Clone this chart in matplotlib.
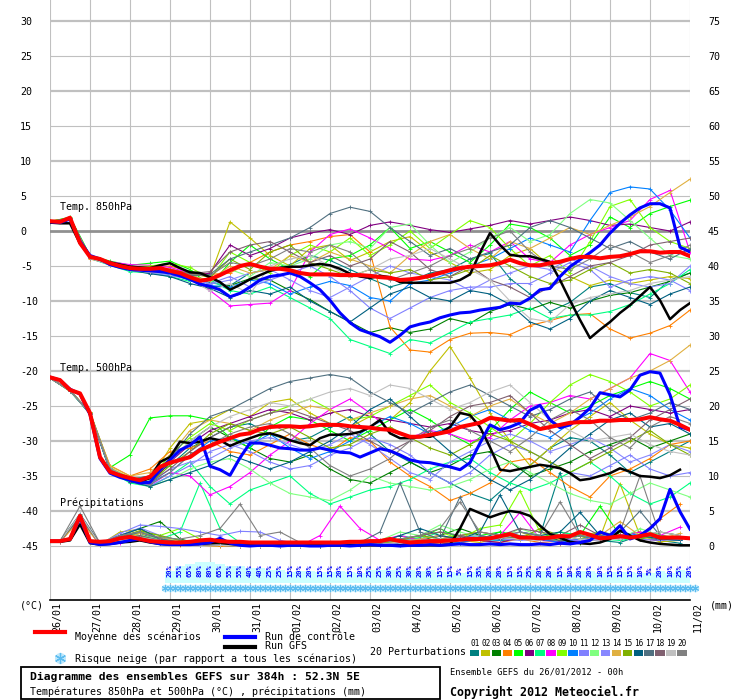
import numpy as np
import matplotlib
matplotlib.use("Agg")
import matplotlib.pyplot as plt
import matplotlib.transforms as mtransforms
from matplotlib.lines import Line2D
from matplotlib.patches import Rectangle

plt.rcParams['font.family'] = ['DejaVu Sans Mono', 'DejaVu Sans']

# ---------------- data ----------------
hours = np.arange(0, 385, 6)        # mean / control / GFS, 6h steps
hours12 = np.arange(0, 385, 12)     # perturbations 850/500
hours_rr = np.arange(6, 384, 12)    # perturbations precip
day_labels = ['26/01', '27/01', '28/01', '29/01', '30/01', '31/01', '01/02', '02/02', '03/02',
              '04/02', '05/02', '06/02', '07/02', '08/02', '09/02', '10/02', '11/02']

pert_colors = ['#008080', '#c0c000', '#008000', '#ff8000', '#00ff00', '#800080', '#00ff80',
               '#ff00ff', '#80ff00', '#0080ff', '#8080ff', '#80ff80', '#8888ff', '#e0b040',
               '#80b000', '#006080', '#507080', '#806070', '#c0c0c0', '#808080']

t850_mean = [1.4, 1.3, 1.9, -1.7, -3.7, -4.0, -4.6, -5.0, -5.3, -5.4, -5.4, -5.3, -5.7, -6.0, -6.6,
             -7.1, -6.9, -6.3, -5.6, -5.0, -4.7, -5.1, -5.4, -5.4, -5.6, -6.0, -6.2, -6.2, -6.2, -6.3,
             -6.3, -6.3, -6.4, -6.6, -6.7, -7.0, -6.9, -6.7, -6.4, -6.0, -5.6, -5.3, -5.1, -5.0, -4.9,
             -4.6, -4.1, -4.6, -4.9, -4.9, -4.6, -4.4, -4.0, -3.7, -3.7, -3.9, -3.7, -3.6, -3.3, -2.9,
             -2.9, -3.1, -3.0, -3.0, -3.6]
t850_ctrl = [1.3, 1.2, 1.7, -1.5, -3.5, -4.0, -4.8, -5.2, -5.5, -5.6, -5.7, -5.8, -6.0, -6.4, -6.9,
             -7.6, -7.9, -8.4, -9.4, -8.9, -8.0, -7.0, -6.5, -6.3, -6.0, -6.5, -7.4, -8.4, -9.9, -11.7,
             -13.1, -14.1, -14.6, -15.1, -15.9, -14.9, -13.7, -13.3, -13.0, -12.4, -12.0, -11.7, -11.6,
             -11.3, -11.1, -10.9, -10.3, -10.4, -9.6, -8.4, -8.2, -6.5, -5.1, -4.1, -3.1, -2.0, -0.3,
             1.1, 2.3, 3.3, 3.9, 3.9, 3.3, -2.3, -3.0]
t850_gfs = [1.2, 1.1, 1.1, -1.8, -3.6, -4.1, -4.5, -4.8, -5.1, -5.2, -5.3, -4.9, -4.6, -5.3, -5.9,
            -6.0, -6.6, -7.3, -8.4, -7.7, -6.9, -6.3, -5.7, -5.3, -5.1, -5.1, -4.9, -4.7, -4.9, -5.4,
            -6.1, -6.5, -6.7, -6.4, -6.6, -7.3, -7.4, -7.4, -7.4, -7.4, -7.4, -7.0, -6.2, -3.1, -0.3,
            -2.0, -3.4, -3.6, -3.6, -4.0, -4.4, -7.0, -9.9, -12.7, -15.3, -14.1, -13.0, -11.7, -10.6,
            -9.3, -8.0, -9.9, -12.6, -11.3, -10.3]

t850_members = [
    [1.3, 1.9, -3.6, -4.4, -5.0, -5.3, -5.5, -6.2, -7.4, -7.8, -6.0, -5.5, -4.8, -3.5, -4.2, -5.5,
     -6.8, -8.0, -7.2, -6.0, -5.5, -4.0, -3.2, -6.8, -9.0, -11.5, -10.2, -8.0, -7.5, -8.8, -9.5, -7.0, -6.0],
    [1.2, 1.8, -3.9, -4.8, -5.6, -5.8, -5.4, -6.0, -6.5, 1.3, -1.0, -3.5, -5.0, -2.5, -2.0, -4.2,
     -3.0, -1.5, -0.8, -3.0, -4.5, -6.0, -5.5, -3.5, -2.5, -5.0, -6.5, -7.8, -7.0, -7.5, -7.0, -6.5, -6.8],
    [1.3, 1.7, -3.7, -4.5, -5.2, -5.6, -6.0, -7.0, -8.0, -7.8, -6.8, -7.0, -8.5, -9.8, -11.5, -13.0,
     -14.5, -13.8, -14.5, -14.0, -12.5, -13.2, -11.5, -10.5, -11.2, -10.2, -11.0, -10.0, -9.2, -8.8, -8.0, -7.2, -6.0],
    [1.4, 1.8, -4.0, -4.7, -5.4, -5.2, -5.0, -5.8, -6.2, -6.0, -4.5, -3.0, -2.0, -1.5, -0.8, -0.5,
     -3.0, -13.7, -17.0, -17.3, -15.5, -14.6, -14.5, -14.8, -13.5, -12.8, -12.0, -11.8, -14.0, -15.3, -14.6, -13.5, -11.3],
    [1.3, 2.0, -3.5, -4.3, -4.9, -4.6, -4.3, -5.5, -7.8, -4.5, -2.0, -4.0, -5.5, -6.5, -4.0, -3.5,
     -2.0, 0.5, -2.5, -1.5, -3.0, -4.5, -2.0, 1.0, 0.5, -1.0, -3.5, -2.0, 2.0, 0.5, 2.5, 3.5, 4.4],
    [1.3, 1.8, -3.8, -4.6, -5.5, -5.7, -5.8, -6.5, -6.0, -2.0, -3.5, -2.5, -1.0, -0.3, 0.2, -0.5,
     0.8, 1.3, 0.8, 0.2, -0.2, 0.3, 0.8, 1.5, 1.0, 1.5, 2.0, 1.5, 0.8, 1.0, 0.5, 0.0, 1.3],
    [1.2, 1.9, -3.9, -4.9, -5.8, -6.0, -6.5, -7.2, -7.0, -8.5, -9.0, -8.0, -9.5, -11.0, -12.5, -15.5,
     -16.5, -17.5, -15.5, -16.0, -14.5, -13.0, -12.5, -12.0, -11.0, -12.5, -12.0, -12.0, -11.5, -10.5, -9.0, -7.5, -5.5],
    [1.3, 1.8, -3.7, -4.4, -4.8, -4.9, -5.2, -6.0, -8.5, -10.7, -10.5, -10.3, -8.5, -3.0, -0.5, 0.3,
     -1.0, -2.5, -4.0, -4.2, -3.5, -2.0, -3.0, -1.5, -4.0, -4.5, -2.0, -0.5, 0.5, 1.5, 4.5, 5.8, -3.0],
    [1.4, 1.9, -3.6, -4.5, -5.1, -5.0, -4.6, -5.2, -6.8, -3.0, -4.5, -6.0, -3.5, -2.0, -3.0, -1.0,
     -3.5, -2.0, 0.0, -2.5, -0.5, 1.5, 0.5, -2.5, -5.0, -3.5, -6.0, -1.5, 3.5, 4.5, 0.5, -1.5, -2.5],
    [1.3, 1.7, -3.8, -4.7, -5.4, -5.9, -6.2, -7.0, -7.8, -8.0, -7.0, -7.5, -9.0, -8.0, -7.2, -7.8,
     -9.5, -10.0, -7.5, -7.0, -6.0, -5.0, -4.0, -2.5, -1.0, -2.0, -3.0, 1.5, 5.5, 6.3, 6.0, 3.0, -1.0],
    [1.3, 1.8, -3.9, -4.8, -5.5, -6.0, -6.4, -6.8, -7.5, -6.5, -8.0, -7.0, -6.0, -5.0, -6.5, -8.5,
     -11.0, -12.5, -11.0, -9.5, -8.5, -8.0, -8.0, -7.5, -7.5, -6.0, -4.5, -5.5, -8.0, -7.0, -6.5, -7.0, -8.5],
    [1.3, 1.9, -3.7, -4.5, -5.3, -5.4, -5.7, -6.3, -7.2, -5.5, -6.5, -4.5, -5.0, -4.0, -2.0, -1.5,
     -2.5, 0.5, 1.0, -2.0, -4.5, -3.0, -1.0, 0.5, -1.5, -0.5, 2.5, 4.5, 4.0, 1.5, -1.0, -3.5, -4.0],
    [1.2, 1.8, -3.8, -4.6, -5.5, -5.6, -6.0, -6.6, -7.6, -7.0, -6.0, -5.5, -7.0, -8.5, -9.5, -8.0,
     -6.5, -5.0, -6.0, -6.5, -7.0, -8.5, -7.0, -6.0, -5.0, -5.5, -4.0, -5.0, -6.5, -7.5, -8.0, -7.5, -5.0],
    [1.3, 1.7, -3.9, -4.6, -5.2, -5.5, -5.9, -6.4, -7.0, -5.0, -6.0, -5.5, -3.5, -4.5, -3.0, -4.0,
     -5.0, -6.0, -3.5, -1.5, -0.5, -2.5, -4.0, -1.5, -2.5, -1.0, 0.5, -0.5, 0.8, 2.0, 3.5, 5.5, 7.4],
    [1.4, 1.8, -3.6, -4.4, -5.2, -5.3, -5.5, -6.1, -6.6, -4.0, -5.5, -3.0, -2.0, -4.5, -5.5, -6.5,
     -5.5, -6.0, -5.5, -7.0, -6.5, -5.5, -3.5, -5.0, -6.5, -7.5, -7.0, -5.5, -4.5, -6.0, -5.5, -6.0, -7.5],
    [1.3, 1.8, -3.8, -4.7, -5.6, -6.1, -6.5, -7.5, -8.2, -9.5, -8.5, -9.0, -8.0, -10.0, -11.5, -13.0,
     -11.0, -9.0, -8.0, -9.5, -10.0, -8.5, -9.0, -10.5, -13.0, -14.0, -12.5, -10.0, -8.5, -9.5, -10.5, -9.0, -8.0],
    [1.3, 1.9, -3.7, -4.5, -5.3, -5.6, -5.8, -6.4, -6.2, -4.0, -3.0, -2.0, -1.0, 0.5, 2.5, 3.4,
     2.8, 0.5, -1.5, -3.5, -2.5, -4.0, -3.0, -2.0, 0.5, 1.5, 0.5, -1.0, -2.5, -1.5, -3.0, -4.0, -2.5],
    [1.3, 1.8, -3.8, -4.6, -5.4, -5.5, -5.6, -6.1, -5.8, -3.0, -2.0, -1.5, -3.0, -4.5, -3.5, -5.0,
     -4.0, -1.5, -3.0, -5.5, -6.5, -5.0, -7.0, -8.0, -9.5, -8.0, -6.5, -5.0, -4.5, -3.5, -2.0, -1.5, -1.0],
    [1.2, 1.8, -3.9, -4.8, -5.6, -5.9, -6.1, -6.8, -8.6, -7.5, -9.0, -5.0, -4.0, -3.5, -5.0, -6.5,
     -5.5, -4.0, -3.5, -2.5, -4.0, -5.5, -7.0, -10.0, -12.5, -13.0, -10.5, -9.5, -9.0, -8.5, -7.5, -7.0, -6.5],
    [1.3, 1.8, -3.7, -4.5, -5.2, -5.4, -5.5, -6.2, -6.4, -4.5, -5.0, -4.0, -2.5, -3.0, -2.0, -3.0,
     -5.5, -7.0, -6.0, -5.0, -3.5, -2.5, -1.0, 0.0, -3.0, -5.0, -5.5, -4.0, -2.0, -3.0, -4.5, -3.5, -2.0],
]

t500_mean = [-20.9, -21.3, -22.7, -23.2, -26.0, -32.3, -34.4, -34.9, -35.3, -35.6, -35.1, -33.7, -33.1,
             -32.7, -32.3, -31.3, -30.7, -30.1, -29.6, -29.1, -28.9, -28.3, -28.0, -27.9, -27.9, -28.0,
             -27.9, -27.7, -27.7, -27.7, -27.9, -28.0, -28.1, -28.3, -28.4, -28.9, -29.4, -29.4, -29.1,
             -28.9, -28.6, -28.0, -27.7, -27.4, -26.7, -26.9, -27.1, -27.0, -27.6, -28.3, -28.0, -27.7,
             -27.4, -27.3, -27.3, -27.1, -27.1, -27.0, -27.0, -26.9, -26.6, -26.9, -27.1, -27.7, -28.4]
t500_ctrl = [-20.9, -21.3, -22.6, -23.3, -26.2, -32.5, -34.6, -35.2, -35.6, -36.0, -35.9, -34.1, -32.7,
             -31.3, -30.6, -29.4, -33.6, -34.1, -34.9, -32.4, -30.3, -30.3, -30.6, -31.0, -31.1, -31.3,
             -31.3, -31.0, -31.3, -31.6, -31.7, -32.3, -31.7, -31.1, -31.4, -32.0, -32.7, -33.0, -33.1,
             -33.4, -33.7, -34.1, -33.1, -30.3, -27.7, -28.4, -28.0, -27.4, -25.6, -24.9, -27.0, -28.1,
             -27.7, -26.6, -25.3, -23.1, -23.4, -23.7, -22.7, -20.6, -20.1, -20.3, -23.4, -28.0, -28.4]
t500_gfs = [-20.9, -21.3, -22.7, -23.2, -26.1, -32.4, -34.5, -35.0, -35.5, -35.8, -35.3, -33.0, -32.3,
            -30.1, -30.3, -30.1, -29.6, -29.9, -30.7, -30.1, -29.6, -29.1, -28.9, -29.3, -29.9, -30.3,
            -30.6, -29.6, -29.1, -29.1, -29.0, -28.7, -28.0, -27.0, -28.9, -29.6, -29.6, -29.4, -29.4,
            -28.9, -28.0, -26.0, -26.3, -28.0, -30.9, -34.1, -34.3, -34.0, -33.7, -33.4, -33.6, -33.9,
            -34.6, -35.6, -35.4, -35.0, -34.6, -33.9, -34.4, -35.0, -35.1, -35.3, -34.9, -34.1, np.nan]

t500_members = [
    [-21.0, -22.7, -26.2, -34.2, -35.5, -35.0, -33.5, -31.0, -29.5, -28.0, -27.5, -29.0, -30.0, -29.5, -28.0, -26.5,
     -29.0, -31.5, -33.0, -34.5, -36.0, -37.5, -38.5, -36.0, -33.5, -31.0, -29.5, -30.0, -32.0, -34.5, -33.0, -31.5, -30.0],
    [-21.0, -22.9, -25.8, -33.8, -35.3, -35.5, -31.0, -27.5, -27.0, -25.5, -26.5, -24.5, -24.0, -26.0, -27.5, -28.0,
     -26.5, -27.0, -24.5, -20.0, -16.5, -21.0, -26.0, -30.0, -33.5, -31.0, -28.5, -26.5, -24.5, -27.0, -29.0, -30.5, -31.0],
    [-21.0, -22.8, -26.0, -34.0, -35.8, -36.2, -33.0, -30.0, -28.0, -29.5, -31.0, -32.5, -33.0, -32.0, -34.0, -35.5,
     -36.0, -34.5, -33.0, -34.5, -33.5, -32.0, -31.5, -33.0, -35.0, -34.0, -33.0, -31.5, -30.5, -29.5, -31.0, -30.0, -29.0],
    [-21.0, -22.6, -26.2, -33.5, -35.0, -34.0, -31.5, -31.0, -30.0, -31.5, -32.0, -30.5, -29.0, -30.5, -31.5, -29.5,
     -30.0, -33.0, -35.0, -36.5, -38.5, -37.5, -36.0, -33.0, -32.5, -34.5, -36.5, -38.0, -35.0, -34.0, -32.5, -30.5, -30.0],
    [-21.0, -22.8, -25.9, -33.8, -32.0, -26.7, -26.4, -26.4, -27.0, -29.5, -31.0, -28.0, -26.5, -27.0, -28.5, -30.0,
     -28.5, -27.0, -25.5, -27.0, -29.0, -30.5, -28.5, -25.5, -23.0, -24.5, -26.0, -25.0, -23.5, -22.5, -21.5, -22.5, -24.0],
    [-21.0, -22.8, -26.0, -34.0, -35.5, -36.0, -33.0, -30.5, -28.5, -27.5, -26.5, -25.5, -26.0, -27.0, -26.0, -25.5,
     -26.5, -27.0, -27.5, -28.0, -27.5, -28.5, -29.0, -28.5, -27.5, -27.0, -26.0, -25.5, -26.5, -25.0, -25.5, -26.0, -25.5],
    [-21.0, -22.9, -26.1, -34.3, -36.0, -36.5, -35.0, -33.0, -36.5, -39.0, -37.0, -36.0, -35.0, -37.5, -39.0, -38.0,
     -37.0, -36.5, -35.5, -34.0, -33.0, -32.5, -34.5, -36.0, -37.0, -36.0, -34.5, -33.0, -35.0, -37.5, -39.0, -38.0, -36.0],
    [-21.0, -22.8, -26.0, -34.2, -35.8, -36.3, -34.5, -35.0, -37.7, -36.5, -34.5, -32.0, -30.0, -27.5, -25.5, -24.0,
     -26.0, -28.5, -29.5, -28.5, -29.0, -30.0, -29.5, -27.0, -25.0, -24.5, -23.5, -24.0, -22.5, -21.0, -17.5, -18.5, -23.0],
    [-21.0, -22.8, -26.0, -34.0, -35.2, -35.5, -32.0, -29.5, -27.5, -28.5, -27.0, -26.0, -25.0, -24.0, -25.5, -27.0,
     -26.5, -25.0, -23.5, -22.0, -24.5, -26.0, -28.0, -30.0, -27.5, -24.5, -22.0, -20.5, -21.5, -23.0, -25.0, -24.0, -22.0],
    [-21.0, -22.8, -26.1, -34.1, -35.5, -36.0, -34.5, -32.0, -30.0, -29.5, -30.5, -29.0, -31.0, -32.5, -31.5, -30.0,
     -28.0, -26.5, -27.5, -29.0, -28.0, -26.5, -25.5, -27.0, -28.5, -29.5, -27.5, -26.0, -24.0, -22.5, -23.5, -25.5, -27.0],
    [-21.0, -22.8, -26.0, -34.0, -35.6, -36.4, -35.0, -33.5, -31.5, -30.5, -31.5, -33.0, -34.0, -33.5, -32.0, -31.0,
     -29.5, -30.5, -32.0, -34.5, -36.0, -34.5, -32.0, -30.5, -31.5, -33.0, -34.5, -35.0, -33.5, -32.0, -34.0, -35.0, -34.5],
    [-21.0, -22.8, -26.0, -34.0, -35.7, -36.5, -35.5, -34.0, -33.0, -32.5, -34.0, -36.0, -37.5, -38.0, -38.5, -37.0,
     -35.0, -36.0, -36.5, -37.0, -36.5, -35.5, -34.0, -33.0, -34.5, -36.0, -37.5, -38.5, -39.0, -37.5, -36.0, -37.0, -38.0],
    [-21.0, -22.8, -26.0, -33.9, -35.4, -35.8, -34.0, -33.0, -32.5, -31.0, -30.0, -29.5, -30.5, -31.5, -30.5, -29.0,
     -30.5, -32.5, -34.5, -35.5, -33.0, -31.5, -30.0, -29.0, -30.0, -31.5, -30.5, -29.5, -31.0, -33.0, -32.0, -30.5, -31.5],
    [-21.0, -22.7, -25.9, -33.6, -35.0, -34.5, -32.0, -28.5, -27.0, -27.5, -28.5, -27.0, -26.0, -25.0, -25.5, -27.0,
     -26.0, -25.0, -24.0, -23.5, -25.0, -26.5, -25.0, -24.0, -26.0, -27.5, -26.0, -24.0, -22.5, -21.0, -20.0, -18.5, -16.3],
    [-21.0, -22.8, -26.0, -34.0, -35.5, -36.0, -33.5, -31.5, -29.0, -27.5, -28.5, -29.0, -28.0, -29.5, -31.0, -30.5,
     -29.0, -28.0, -29.5, -31.0, -32.0, -30.5, -29.0, -30.0, -31.5, -33.0, -34.5, -33.0, -31.5, -30.0, -28.5, -30.5, -32.0],
    [-21.0, -22.8, -26.0, -34.2, -35.8, -36.5, -35.5, -34.5, -33.5, -32.0, -33.0, -34.0, -33.0, -31.5, -30.0, -28.0,
     -25.5, -24.0, -26.5, -29.0, -31.5, -33.5, -35.5, -37.0, -35.5, -33.5, -31.0, -29.0, -27.0, -26.0, -28.0, -27.5, -29.0],
    [-21.0, -22.8, -26.0, -34.0, -35.5, -35.0, -32.5, -29.0, -26.5, -25.5, -24.0, -22.5, -21.5, -21.0, -20.5, -21.0,
     -23.0, -24.5, -26.0, -24.5, -23.0, -22.0, -23.5, -25.0, -26.5, -25.5, -24.0, -23.0, -25.5, -27.0, -26.0, -24.5, -25.5],
    [-21.0, -22.8, -26.0, -34.0, -35.5, -36.0, -34.0, -31.5, -29.5, -28.0, -27.0, -26.0, -25.5, -26.5, -27.5, -28.5,
     -30.0, -31.5, -30.0, -28.5, -26.5, -25.0, -24.5, -23.5, -26.0, -28.5, -30.5, -32.5, -31.0, -29.5, -27.0, -25.5, -24.0],
    [-21.0, -22.8, -26.0, -34.0, -35.4, -35.5, -33.0, -30.0, -28.0, -26.5, -25.5, -24.5, -25.0, -24.0, -23.0, -22.5,
     -23.5, -22.0, -22.5, -24.0, -25.5, -24.5, -23.0, -22.0, -24.5, -27.0, -28.5, -30.0, -29.5, -29.0, -30.5, -31.5, -32.0],
    [-21.0, -22.8, -26.0, -34.0, -35.6, -36.2, -34.5, -32.0, -30.5, -29.0, -28.0, -27.5, -29.0, -31.0, -33.5, -35.0,
     -34.0, -32.5, -30.0, -28.0, -27.0, -28.5, -30.0, -31.5, -29.5, -27.0, -25.5, -27.0, -29.5, -31.0, -28.0, -26.5, -27.5],
]

# precipitation (mm), right axis
rr_mean = [0.7, 0.7, 1.0, 4.3, 0.7, 0.6, 0.7, 1.1, 1.3, 1.0, 0.7, 0.6, 0.5, 0.5, 0.6, 0.8, 0.9, 0.7, 0.6,
           0.6, 0.5, 0.5, 0.5, 0.5, 0.5, 0.5, 0.5, 0.5, 0.5, 0.5, 0.6, 0.6, 0.7, 0.7, 1.0, 0.7, 0.5, 0.6,
           0.7, 0.7, 0.8, 0.9, 1.0, 1.0, 1.1, 1.4, 1.7, 1.2, 1.2, 1.1, 1.2, 1.4, 1.4, 2.0, 1.6, 1.1, 1.2,
           1.4, 1.2, 1.4, 1.7, 1.2, 1.2, 1.2, 1.1]
rr_ctrl = [0.7, 0.7, 1.0, 4.0, 0.5, 0.2, 0.3, 0.5, 0.8, 1.0, 0.6, 0.3, 0.2, 0.2, 0.2, 0.3, 0.5, 1.1, 0.4,
           0.1, 0.0, 0.1, 0.1, 0.0, 0.1, 0.1, 0.0, 0.0, 0.1, 0.1, 0.0, 0.1, 0.2, 0.1, 0.1, 0.0, 0.1, 0.1,
           0.2, 0.1, 0.2, 0.3, 0.2, 0.2, 0.3, 0.2, 0.3, 0.2, 0.2, 0.3, 0.2, 0.4, 0.3, 0.5, 0.8, 2.0, 1.5,
           2.9, 1.0, 1.5, 2.5, 3.9, 8.1, 4.9, 2.4]
rr_gfs = [0.6, 0.6, 0.8, 3.1, 0.4, 0.2, 0.3, 0.5, 0.6, 0.8, 0.5, 0.3, 0.2, 0.2, 0.3, 0.3, 0.4, 0.5, 0.3,
          0.2, 0.1, 0.1, 0.1, 0.1, 0.1, 0.1, 0.1, 0.1, 0.1, 0.1, 0.1, 0.1, 0.1, 0.1, 0.1, 0.1, 0.1, 0.1,
          0.1, 0.1, 0.2, 2.5, 5.3, 4.7, 4.1, 4.6, 5.0, 4.8, 4.3, 2.9, 1.7, 1.2, 0.6, 0.4, 0.3, 0.5, 1.0,
          2.2, 1.5, 0.8, 0.5, 0.3, 0.2, 0.1, 0.1]

rr_members = [
    [0.7, 4.5, 0.3, 1.2, 1.8, 0.8, 0.3, 0.2, 0.3, 0.2, 0.1, 0.0, 0.0, 0.1, 0.2, 0.1, 0.3, 0.2, 0.4, 0.6, 0.5, 1.0, 2.0, 1.2, 1.5, 10.5, 1.5, 0.8, 0.5, 1.5, 0.8, 0.4],
    [0.6, 4.0, 0.2, 2.0, 2.4, 1.0, 0.3, 0.1, 0.0, 0.2, 0.1, 0.0, 0.2, 0.0, 0.1, 0.2, 0.4, 0.8, 1.0, 1.5, 0.8, 0.5, 1.2, 2.0, 1.0, 0.6, 1.8, 1.2, 8.9, 1.5, 0.6, 0.8],
    [0.7, 4.2, 0.4, 1.5, 2.5, 3.5, 1.0, 0.3, 0.2, 0.1, 0.0, 0.0, 0.1, 0.1, 0.0, 0.2, 0.3, 0.5, 0.8, 1.5, 2.5, 1.5, 0.8, 1.0, 1.5, 0.8, 0.5, 1.0, 1.5, 2.0, 1.2, 0.8],
    [0.6, 3.8, 0.2, 0.8, 1.2, 0.5, 0.2, 0.1, 0.0, 0.0, 0.1, 0.0, 0.0, 0.2, 0.1, 0.0, 0.1, 0.3, 0.5, 0.3, 0.5, 0.8, 0.5, 1.0, 0.5, 0.3, 0.8, 1.5, 1.0, 1.5, 3.9, 6.0],
    [0.7, 4.3, 0.3, 1.0, 1.5, 0.8, 0.4, 0.2, 0.1, 0.0, 0.0, 0.1, 0.0, 0.1, 0.2, 0.1, 0.5, 0.8, 1.2, 2.5, 1.0, 1.5, 2.0, 1.5, 1.2, 2.0, 1.5, 5.7, 1.5, 1.0, 2.0, 1.5],
    [0.7, 4.0, 0.2, 0.6, 1.0, 0.5, 0.3, 0.2, 0.1, 0.0, 0.0, 0.0, 0.1, 0.0, 0.0, 0.1, 0.2, 0.5, 0.8, 0.6, 1.0, 0.8, 0.5, 1.2, 0.8, 0.6, 1.0, 0.8, 1.5, 1.0, 0.8, 1.2],
    [0.7, 4.1, 0.3, 0.8, 1.2, 1.0, 2.0, 9.0, 2.5, 0.5, 0.3, 0.1, 0.0, 0.0, 0.1, 0.2, 0.5, 1.5, 1.0, 2.0, 1.5, 1.0, 0.8, 1.5, 1.0, 2.0, 1.5, 1.0, 0.8, 1.2, 1.5, 1.0],
    [0.6, 3.9, 0.2, 0.5, 1.0, 0.8, 0.5, 0.3, 0.2, 0.1, 0.0, 0.1, 0.0, 1.5, 5.7, 2.5, 0.8, 1.5, 0.8, 1.0, 1.5, 2.0, 1.5, 4.8, 1.0, 0.5, 0.8, 1.0, 1.5, 2.0, 1.5, 2.7],
    [0.7, 4.4, 0.3, 1.0, 2.0, 1.5, 2.5, 1.0, 0.3, 0.1, 0.0, 0.0, 0.1, 0.2, 0.1, 0.3, 0.5, 1.0, 1.5, 2.0, 1.0, 2.5, 3.0, 7.9, 2.0, 1.0, 1.5, 2.0, 1.0, 1.5, 1.0, 1.5],
    [0.7, 4.0, 0.2, 1.5, 2.0, 1.0, 0.5, 0.3, 0.2, 0.1, 0.0, 0.0, 0.0, 0.1, 0.0, 0.1, 0.2, 0.3, 0.5, 0.8, 0.5, 1.0, 0.8, 1.5, 1.0, 0.5, 1.0, 1.5, 2.0, 1.5, 1.0, 0.8],
    [0.6, 4.2, 0.3, 1.8, 3.0, 2.8, 2.5, 2.0, 1.5, 2.1, 2.0, 0.8, 0.3, 0.1, 0.0, 0.1, 0.3, 0.5, 1.0, 1.5, 1.0, 0.8, 1.0, 2.0, 1.5, 1.0, 0.8, 1.2, 1.5, 1.0, 0.8, 1.0],
    [0.7, 4.3, 0.2, 1.2, 1.5, 1.0, 0.8, 0.5, 0.2, 0.1, 0.0, 0.0, 0.1, 0.1, 0.2, 0.3, 0.8, 2.0, 1.5, 3.0, 2.0, 1.2, 1.0, 2.5, 1.5, 1.0, 2.0, 1.5, 1.0, 2.5, 1.5, 1.0],
    [0.7, 4.0, 0.3, 1.5, 2.6, 1.5, 0.8, 0.4, 0.2, 0.1, 0.0, 0.0, 0.0, 0.1, 0.1, 0.2, 0.5, 0.8, 1.0, 0.8, 1.2, 1.5, 1.0, 0.8, 1.0, 1.5, 1.0, 0.8, 1.2, 1.5, 1.0, 0.8],
    [0.6, 3.7, 0.2, 1.0, 1.8, 1.2, 0.6, 0.3, 0.1, 0.0, 0.0, 0.0, 0.1, 0.0, 0.1, 0.2, 0.3, 0.6, 1.0, 1.5, 1.0, 0.8, 1.2, 1.0, 1.5, 1.0, 2.0, 1.5, 3.5, 1.5, 1.0, 1.8],
    [0.7, 4.1, 0.3, 1.3, 2.2, 1.5, 0.8, 0.5, 0.2, 0.1, 0.0, 0.0, 0.0, 0.1, 0.0, 0.1, 0.3, 0.8, 1.5, 1.0, 1.5, 2.0, 1.5, 1.0, 2.5, 1.5, 1.0, 2.0, 1.5, 1.0, 1.5, 1.2],
    [0.7, 4.3, 0.3, 1.5, 2.5, 1.0, 0.5, 0.3, 0.2, 0.1, 0.0, 0.0, 0.1, 0.0, 0.1, 0.2, 0.5, 1.5, 2.5, 1.5, 1.0, 2.0, 7.3, 2.0, 1.5, 2.0, 4.8, 1.5, 1.0, 1.5, 1.0, 0.8],
    [0.7, 4.6, 0.4, 1.2, 2.0, 1.0, 0.5, 0.3, 0.2, 0.1, 0.0, 0.0, 0.0, 0.1, 0.2, 0.5, 2.0, 9.0, 2.0, 1.0, 7.0, 1.5, 1.0, 1.5, 1.0, 0.8, 1.5, 1.0, 2.0, 5.0, 1.5, 1.0],
    [0.7, 4.2, 0.3, 1.0, 1.5, 0.8, 0.4, 0.2, 0.1, 0.0, 0.0, 0.0, 0.1, 0.1, 0.2, 0.3, 0.5, 1.0, 1.5, 2.0, 1.5, 1.0, 1.5, 2.5, 2.0, 1.5, 3.0, 1.5, 1.0, 1.5, 2.0, 1.5],
    [0.7, 4.5, 0.2, 0.8, 1.2, 0.8, 0.4, 0.2, 0.1, 0.0, 0.0, 0.0, 0.0, 0.1, 0.1, 0.2, 0.3, 0.5, 0.8, 1.0, 0.8, 1.0, 1.2, 1.0, 0.8, 1.5, 1.0, 0.8, 1.0, 1.5, 2.0, 1.5],
    [0.7, 5.7, 0.4, 1.5, 2.0, 1.2, 1.0, 1.5, 2.5, 6.0, 1.5, 2.0, 0.5, 0.2, 0.1, 0.2, 0.5, 1.0, 1.5, 2.5, 6.3, 2.0, 1.5, 2.0, 1.5, 6.3, 1.5, 1.0, 2.0, 10.0, 1.5, 1.0],
]

# snow risk (% of scenarios), every 6h from 29/01 00h
snow_hours = np.arange(72, 385, 6)
snow_pct = [20, 55, 65, 80, 80, 65, 55, 55, 40, 40, 25, 25, 15, 20, 20, 15, 15, 20, 15, 10, 25, 25,
            30, 25, 30, 20, 30, 15, 15, 5, 15, 35, 20, 20, 15, 15, 25, 20, 20, 15, 10, 20, 20, 10, 15,
            15, 15, 10, 5, 20, 10, 25, 20]

temp_ticks = [30, 25, 20, 15, 10, 5, 0, -5, -10, -15, -20, -25, -30, -35, -40, -45]
rr_ticks = [75, 70, 65, 60, 55, 50, 45, 40, 35, 30, 25, 20, 15, 10, 5, 0]
rr_offset = 45      # right scale = left scale + 45

# ---------------- layout ----------------
W, H = 740, 700


def fx(px):
    return px / W


def fy(py):
    return 1 - py / H


def py2t(py):
    # pixel row of the original chart -> value on the temperature scale
    return (231 - py) / 7.0


fig = plt.figure(figsize=(W / 100, H / 100), dpi=100)
fig.patch.set_facecolor('white')
ax = fig.add_axes([fx(50), fy(600), 640 / W, 600 / H])
ax.set_xlim(0, 384)
ax.set_ylim(py2t(600), py2t(0))
for s in ['top', 'left', 'right']:
    ax.spines[s].set_visible(False)
ax.spines['bottom'].set_color('black')
ax.spines['bottom'].set_linewidth(1.2)
ax.set_xticks([])
ax.set_yticks([])

# grid
for d in range(len(day_labels)):
    ax.axvline(d * 24, color='#c0c0c0', lw=0.8, zorder=0)
for t in temp_ticks:
    if t == 0:
        ax.axhline(t, color='#909090', lw=2.0, zorder=0.5)
    elif t % 10 == 0:
        ax.axhline(t, color='#c0c0c0', lw=1.6, zorder=0)
    else:
        ax.axhline(t, color='#c0c0c0', lw=0.8, zorder=0)

# perturbations
for k in range(20):
    c = pert_colors[k]
    kw = dict(color=c, lw=0.8, marker='+', ms=3, mew=0.6, zorder=2)
    ax.plot(hours12, t850_members[k], **kw)
    ax.plot(hours12, t500_members[k], **kw)
    ax.plot(hours_rr, np.array(rr_members[k]) - rr_offset, **kw)

# GFS, control, mean
styles = [('black', 1.8, 3), ('#0000ff', 2.2, 4), ('#ff0000', 2.9, 5)]
for group in [(t850_gfs, t850_ctrl, t850_mean), (t500_gfs, t500_ctrl, t500_mean)]:
    for series, (col, lw, z) in zip(group, styles):
        ax.plot(hours, series, color=col, lw=lw, zorder=z, solid_joinstyle='round')
for series, (col, lw, z) in zip((rr_gfs, rr_ctrl, rr_mean), styles):
    ax.plot(hours, np.array(series) - rr_offset, color=col, lw=lw, zorder=z, solid_joinstyle='round')

# snow risk strip
bar_bottom = py2t(583)
bar_tops = [py2t(574 - 0.15 * p) for p in snow_pct]
ax.bar(snow_hours, np.array(bar_tops) - bar_bottom, bottom=bar_bottom, width=6,
       color='#ccffff', zorder=1, linewidth=0)
for h, p in zip(snow_hours, snow_pct):
    ax.text(h, py2t(571), f"{p}%", rotation=90, ha='center', va='center',
            fontsize=5, color='#0000ff', fontweight='bold', zorder=6)
flake_x = np.arange(69, 388, 3)
ax.scatter(flake_x, [py2t(588)] * len(flake_x), s=30, marker='o', color='#bfe8fb',
           linewidths=0, zorder=5, clip_on=False)
ax.scatter(flake_x, [py2t(588)] * len(flake_x), s=22, marker=(6, 2, 0), color='#5cbcf0',
           linewidths=0.7, zorder=6, clip_on=False)

# in-chart labels
fs = 7.2
fig.text(fx(60), fy(207), 'Temp. 850hPa', fontsize=fs, va='center', ha='left')
fig.text(fx(60), fy(368), 'Temp. 500hPa', fontsize=fs, va='center', ha='left')
fig.text(fx(60), fy(503), 'Précipitations', fontsize=fs, va='center', ha='left')

# y tick labels (both sides)
tr_left = mtransforms.blended_transform_factory(fig.transFigure, ax.transData)
for t, r in zip(temp_ticks, rr_ticks):
    ax.text(fx(20), t - 0.15, str(t), transform=tr_left, fontsize=fs, ha='left', va='center')
    ax.text(fx(708), t - 0.15, str(r), transform=tr_left, fontsize=fs, ha='left', va='center')

# x tick labels (dates, rotated)
tr_bottom = mtransforms.blended_transform_factory(ax.transData, fig.transFigure)
for d, lab in enumerate(day_labels):
    ax.text(d * 24 + 1.5, fy(602), lab, transform=tr_bottom, rotation=90, fontsize=fs,
            ha='left', va='top')
fig.text(fx(20), fy(606), '(°C)', fontsize=fs, ha='left', va='center')
fig.text(fx(710), fy(606), '(mm)', fontsize=fs, ha='left', va='center')

# legend
fig.add_artist(Line2D([fx(35), fx(65)], [fy(632), fy(632)], color='#ff0000', lw=3.0))
fig.text(fx(75), fy(637), 'Moyenne des scénarios', fontsize=fs, va='center')
fig.add_artist(Line2D([fx(225), fx(255)], [fy(637), fy(637)], color='#0000ff', lw=3.0))
fig.text(fx(265), fy(637), 'Run de contrôle', fontsize=fs, va='center')
fig.add_artist(Line2D([fx(225), fx(255)], [fy(647), fy(647)], color='black', lw=3.0))
fig.text(fx(265), fy(646), 'Run GFS', fontsize=fs, va='center')
fig.add_artist(Line2D([fx(60)], [fy(658)], marker='o', ms=8, color='#bfe8fb', mew=0, lw=0))
fig.add_artist(Line2D([fx(60)], [fy(658)], marker=(6, 2, 0), ms=8, color='#5cbcf0', mew=0.9, lw=0))
fig.text(fx(75), fy(659), 'Risque neige (par rapport a tous les scénarios)', fontsize=fs, va='center')

fig.text(fx(370), fy(652), '20 Perturbations', fontsize=fs, va='center')
for k, c in enumerate(pert_colors):
    x0 = 470 + 10.9 * k
    fig.add_artist(Rectangle((fx(x0), fy(656)), 9.5 / W, 6 / H, transform=fig.transFigure,
                             color=c, lw=0))
    fig.text(fx(x0 + 4.8), fy(644), f"{k + 1:02d}", fontsize=5.6, ha='center', va='center')

fig.add_artist(Rectangle((fx(21), fy(699)), 419 / W, 32 / H, transform=fig.transFigure,
                         fill=False, ec='black', lw=1.3))
fig.text(fx(30), fy(677), 'Diagramme des ensembles GEFS sur 384h : 52.3N 5E', fontsize=8.2,
         fontweight='bold', va='center')
fig.text(fx(30), fy(692), 'Températures 850hPa et 500hPa (°C) , précipitations (mm)', fontsize=7.2,
         va='center')
fig.text(fx(450), fy(672), 'Ensemble GEFS du 26/01/2012 - 00h', fontsize=6.2, va='center')
fig.text(fx(450), fy(692), 'Copyright 2012 Meteociel.fr', fontsize=8.4, fontweight='bold', va='center')

fig.savefig('out.png', dpi=100, facecolor='white')
